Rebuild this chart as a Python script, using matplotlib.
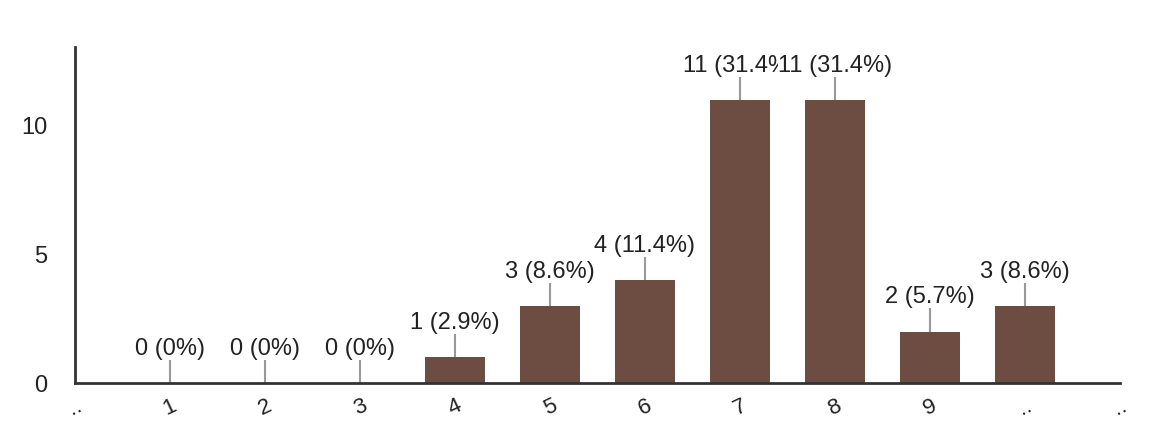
import matplotlib.pyplot as plt

plt.rcParams['font.family'] = ['Liberation Sans', 'DejaVu Sans']

# answers on the 1..10 scale
positions = [1, 2, 3, 4, 5, 6, 7, 8, 9, 10]
counts = [0, 0, 0, 1, 3, 4, 11, 11, 2, 3]
percents = ['0%', '0%', '0%', '2.9%', '8.6%', '11.4%', '31.4%', '31.4%', '5.7%', '8.6%']
tick_pos = [0, 1, 2, 3, 4, 5, 6, 7, 8, 9, 10, 11]
tick_labels = ['..', '1', '2', '3', '4', '5', '6', '7', '8', '9', '..', '..']

bar_color = '#6D4C41'

fig = plt.figure(figsize=(11.6, 4.38), dpi=100)
ax = fig.add_axes([75 / 1160, 55 / 438, 1045 / 1160, 336 / 438])

ax.bar(positions, counts, width=0.63, color=bar_color, zorder=2)

# value labels with short grey leader lines
for x, c, p in zip(positions, counts, percents):
    ax.plot([x, x], [c, c + 0.92], color='#999999', lw=1.5, zorder=1,
            solid_capstyle='butt')
    ax.text(x, c + 0.9, f'{c} ({p})', ha='center', va='bottom', fontsize=17,
            color='#222222', zorder=3,
            bbox=dict(facecolor='white', edgecolor='none', pad=0))

ax.set_xlim(0, 11)
ax.set_ylim(0, 13.07)
ax.set_yticks([0, 5, 10])
ax.tick_params(axis='y', length=0, pad=20, labelsize=17, labelcolor='#222222')
ax.set_xticks(tick_pos)
ax.set_xticklabels(tick_labels, rotation=25, fontsize=16, color='#222222')
ax.tick_params(axis='x', length=0, pad=9)

for side in ['top', 'right']:
    ax.spines[side].set_visible(False)
for side in ['left', 'bottom']:
    ax.spines[side].set_color('#333333')
    ax.spines[side].set_linewidth(2)
    ax.spines[side].set_zorder(4)

plt.savefig('out.png', dpi=100)
